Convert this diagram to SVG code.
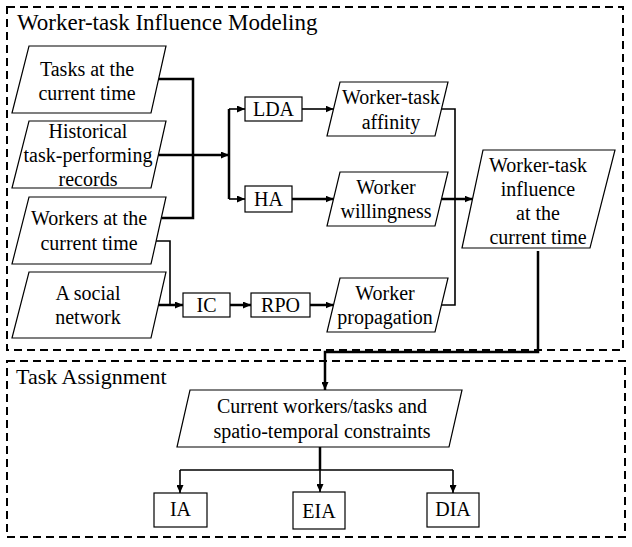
<svg xmlns="http://www.w3.org/2000/svg" width="632" height="547" viewBox="0 0 632 547">
<style>
text{font-family:"Liberation Serif","Times New Roman",serif;fill:#000;text-anchor:middle;font-size:20px}
.title{text-anchor:start;font-size:23px}
.shape{fill:#fff;stroke:#000;stroke-width:1.2}
.dash{fill:none;stroke:#000;stroke-width:2;stroke-dasharray:8 5}
.c{fill:none;stroke:#000;stroke-width:2.5}
.t{fill:none;stroke:#000;stroke-width:1.6}
</style>
<defs>
<marker id="ah" markerUnits="userSpaceOnUse" markerWidth="8" markerHeight="7" refX="8" refY="3.5" orient="auto">
<path d="M0,0 L8,3.5 L0,7 z" fill="#000"/>
</marker>
</defs>
<rect fill="#fff" x="0" y="0" width="632" height="547"/>
<g id="group-modeling">
<rect class="dash" x="7" y="7" width="616" height="343"/>
<text class="title" x="17" y="30">Worker-task Influence Modeling</text>
</g>
<g id="group-assignment">
<rect class="dash" x="7" y="361" width="618" height="176"/>
<text class="title" x="16" y="384" style="font-size:22px">Task Assignment</text>
</g>
<g id="connectors">
<path class="c" d="M158.6,79 H193 V218 H161.3"/>
<path class="c" d="M158.4,155 H229" marker-end="url(#ah)"/>
<path class="c" d="M229,109 V199"/>
<path class="t" d="M229,109 H245" marker-end="url(#ah)"/>
<path class="t" d="M229,199 H245" marker-end="url(#ah)"/>
<path class="t" d="M302,109 H333.5" marker-end="url(#ah)"/>
<path class="c" d="M292,199 H333.5" marker-end="url(#ah)"/>
<path class="t" d="M441.5,109 H455 V305 H441.5"/>
<path class="c" d="M441.5,199 H472.5" marker-end="url(#ah)"/>
<path class="t" d="M156,241 H170 V305"/>
<path class="c" d="M158.5,305 H183" marker-end="url(#ah)"/>
<path class="c" d="M230,305 H251" marker-end="url(#ah)"/>
<path class="c" d="M310,305 H333.5" marker-end="url(#ah)"/>
<path class="c" d="M538,251 V352 H325 V390" marker-end="url(#ah)"/>
<path class="c" d="M320,447 V470"/>
<path class="t" d="M180,470 H453"/>
<path class="t" d="M180,470 V493" marker-end="url(#ah)"/>
<path class="t" d="M320,470 V492" marker-end="url(#ah)"/>
<path class="t" d="M453,470 V493" marker-end="url(#ah)"/>
</g>
<g id="tasks-current">
<polygon class="shape" points="29,46 166,46 151,113 12,113"/>
<text x="87" y="76">Tasks at the</text>
<text x="87" y="100">current time</text>
</g>
<g id="historical-records">
<polygon class="shape" points="29,121 166,121 151,188 12,188"/>
<text x="88" y="138">Historical</text>
<text x="88" y="162">task-performing</text>
<text x="88" y="186">records</text>
</g>
<g id="workers-current">
<polygon class="shape" points="29,197 166,197 151,264 12,264"/>
<text x="89" y="225">Workers at the</text>
<text x="89" y="250">current time</text>
</g>
<g id="social-network">
<polygon class="shape" points="29,272 166,272 151,338 12,338"/>
<text x="88" y="300">A social</text>
<text x="88" y="324">network</text>
</g>
<g id="lda">
<rect class="shape" x="245" y="97" width="57" height="24"/>
<text x="273.5" y="116">LDA</text>
</g>
<g id="ha">
<rect class="shape" x="245" y="186" width="47" height="26"/>
<text x="268.5" y="206">HA</text>
</g>
<g id="ic">
<rect class="shape" x="183" y="293" width="47" height="24"/>
<text x="206.5" y="312">IC</text>
</g>
<g id="rpo">
<rect class="shape" x="251" y="293" width="59" height="24"/>
<text x="280.5" y="312">RPO</text>
</g>
<g id="affinity">
<polygon class="shape" points="340,82 448,82 435,136 327,136"/>
<text x="391" y="104">Worker-task</text>
<text x="391" y="129">affinity</text>
</g>
<g id="willingness">
<polygon class="shape" points="340,172 448,172 435,226 327,226"/>
<text x="386" y="194">Worker</text>
<text x="386" y="218">willingness</text>
</g>
<g id="propagation">
<polygon class="shape" points="340,278 448,278 435,332 327,332"/>
<text x="385" y="300">Worker</text>
<text x="385" y="324">propagation</text>
</g>
<g id="influence">
<polygon class="shape" points="483,150 615,150 590,248 462,248"/>
<text x="538" y="172">Worker-task</text>
<text x="538" y="196">influence</text>
<text x="538" y="220">at the</text>
<text x="538" y="244">current time</text>
</g>
<g id="constraints">
<polygon class="shape" points="190,390 462,390 449,447 177,447"/>
<text x="322" y="413">Current workers/tasks and</text>
<text x="322" y="438">spatio-temporal constraints</text>
</g>
<g id="ia">
<rect class="shape" x="154" y="493" width="53" height="34"/>
<text x="180.5" y="516">IA</text>
</g>
<g id="eia">
<rect class="shape" x="293" y="492" width="52" height="37"/>
<text x="319" y="518">EIA</text>
</g>
<g id="dia">
<rect class="shape" x="427" y="493" width="52" height="34"/>
<text x="453" y="516">DIA</text>
</g>
</svg>
